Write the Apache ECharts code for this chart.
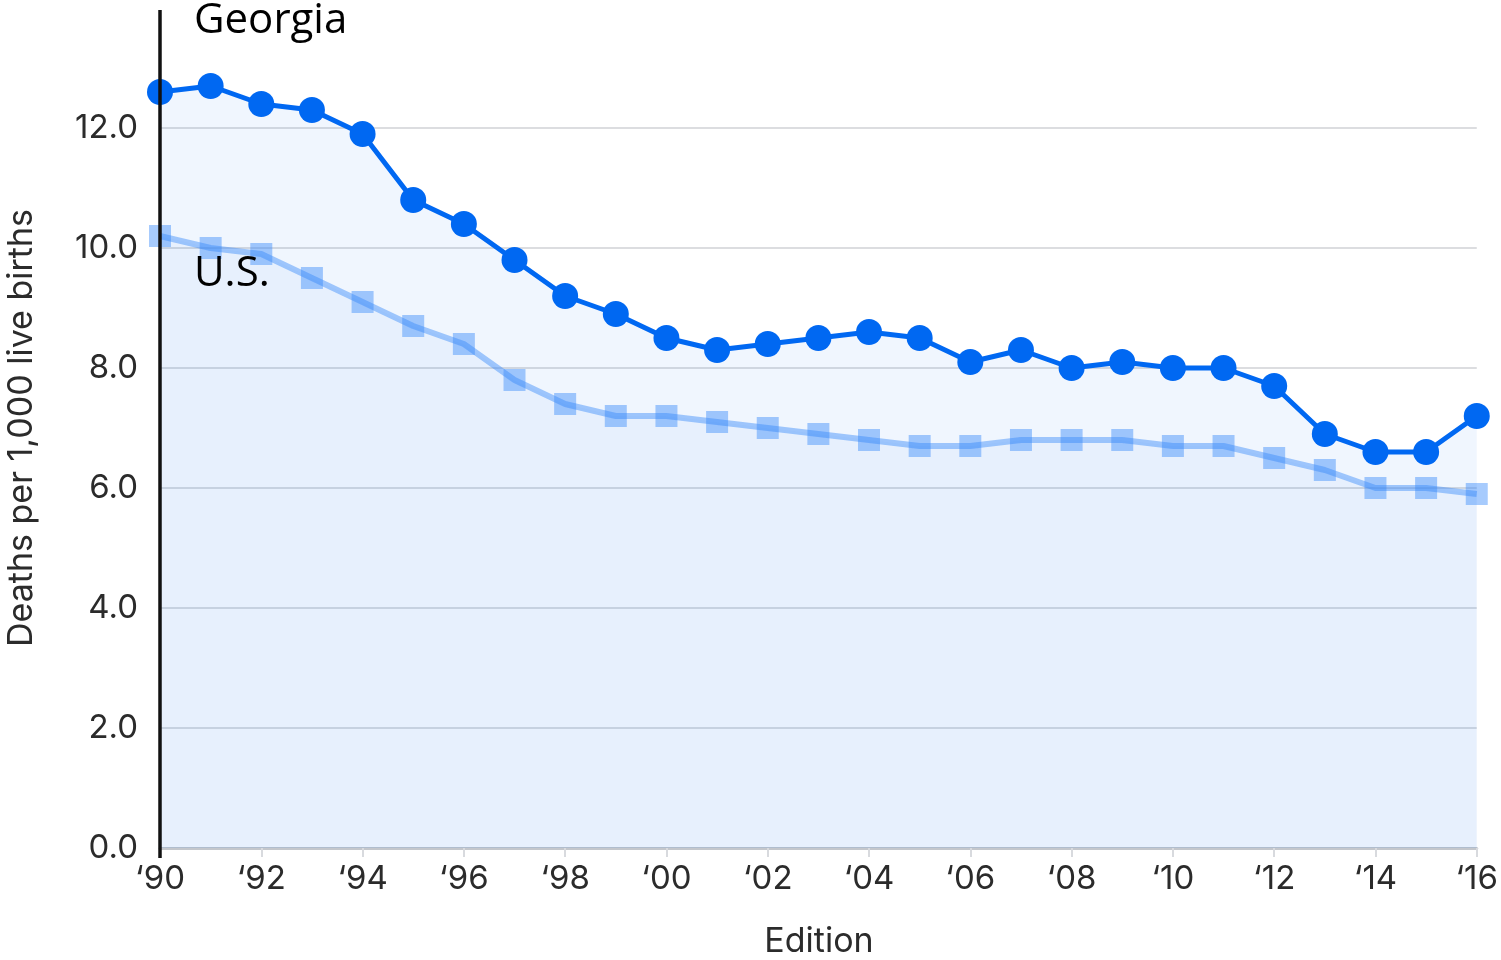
<!DOCTYPE html>
<html>
<head>
<meta charset="utf-8">
<script src="https://cdn.jsdelivr.net/npm/echarts@6/dist/echarts.min.js"></script>
<style>
  html, body { margin: 0; padding: 0; background: #fff; }
  #chart { width: 1501px; height: 960px; }
</style>
</head>
<body>
<div id="chart"></div>
<script>
// editions 1990 - 2016
var years = []
for (var y = 1990; y <= 2016; y++) years.push(y)
var yearLabels = years.map(function (y) { return '\u2018' + String(y).slice(2) })

var georgia = [12.6, 12.7, 12.4, 12.3, 11.9, 10.8, 10.4, 9.8, 9.2, 8.9, 8.5, 8.3, 8.4, 8.5, 8.6, 8.5, 8.1, 8.3, 8.0, 8.1, 8.0, 8.0, 7.7, 6.9, 6.6, 6.6, 7.2]
var us = [10.2, 10.0, 9.9, 9.5, 9.1, 8.7, 8.4, 7.8, 7.4, 7.2, 7.2, 7.1, 7.0, 6.9, 6.8, 6.7, 6.7, 6.8, 6.8, 6.8, 6.7, 6.7, 6.5, 6.3, 6.0, 6.0, 5.9]

var yTicks = [0, 2, 4, 6, 8, 10, 12]

var font = 'Inter, Roboto, sans-serif'
var myChart = echarts.init(document.getElementById('chart'))
var option = {
  animation: false,
  grid: { left: 160, right: 23, top: 128, bottom: 112, containLabel: false },
  xAxis: {
    type: 'category',
    data: yearLabels,
    boundaryGap: false,
    axisLine: { show: true, lineStyle: { color: '#c4c7cc', width: 3 } },
    axisTick: { show: true, interval: 1, length: 9, lineStyle: { color: '#d8dade', width: 2 } },
    axisLabel: { interval: 1, color: '#2b2b2b', fontSize: 33, fontFamily: font, margin: 15 }
  },
  yAxis: {
    type: 'value',
    min: 0,
    max: 12,
    interval: 2,
    axisLine: { show: false },
    axisTick: { show: false },
    axisLabel: {
      color: '#2b2b2b', fontSize: 33, fontFamily: font, margin: 22,
      formatter: function (v) { return yTicks.indexOf(v) >= 0 ? v.toFixed(1) : '' }
    },
    splitLine: { lineStyle: { color: '#dcdde0', width: 2 } }
  },
  series: [
    {
      name: 'U.S.',
      type: 'line',
      data: us,
      clip: false,
      symbol: 'rect',
      symbolSize: 22,
      lineStyle: { color: 'rgba(60,140,250,0.45)', width: 6 },
      itemStyle: { color: 'rgba(60,140,250,0.45)' },
      areaStyle: { color: 'rgba(0,102,240,0.055)', origin: 'start' },
      z: 2
    },
    {
      name: 'Georgia',
      type: 'line',
      data: georgia,
      clip: false,
      symbol: 'circle',
      symbolSize: 26,
      lineStyle: { color: '#0068f2', width: 5 },
      itemStyle: { color: '#0068f2' },
      areaStyle: { color: 'rgba(0,102,240,0.085)', origin: 'start' },
      z: 3
    }
  ],
  graphic: [
    { type: 'line', shape: { x1: 160, y1: 10, x2: 160, y2: 858 }, style: { stroke: '#111', lineWidth: 3.5 }, z: 100 },
    { type: 'text', left: 194, top: 0, style: { text: 'Georgia', font: '42px "Open Sans", "Noto Sans", sans-serif', fill: '#000' }, z: 100 },
    { type: 'text', left: 194, top: 253, style: { text: 'U.S.', font: '42px "Open Sans", "Noto Sans", sans-serif', fill: '#000' }, z: 100 },
    { type: 'text', x: 22, y: 428, rotation: Math.PI / 2, style: { text: 'Deaths per 1,000 live births', font: '34px ' + font, fill: '#2b2b2b', align: 'center', verticalAlign: 'middle' } },
    { type: 'text', x: 819, y: 942, style: { text: 'Edition', font: '34px ' + font, fill: '#2b2b2b', align: 'center', verticalAlign: 'middle' } }
  ]
}
myChart.setOption(option)
</script>
</body>
</html>
